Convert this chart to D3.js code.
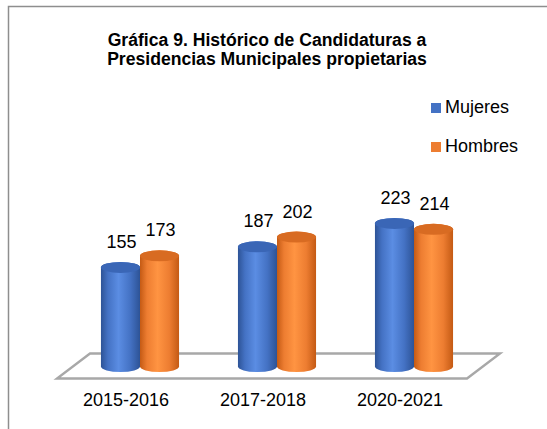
<!DOCTYPE html>
<html>
<head>
<meta charset="utf-8">
<script src="https://cdn.jsdelivr.net/npm/d3@7"></script>
<style>
  html, body { margin: 0; padding: 0; background: #fff; }
  svg { display: block; font-family: "Liberation Sans", Arial, sans-serif; }
</style>
</head>
<body>
<svg id="chart" width="547" height="429"></svg>
<script>
const categories = ["2015-2016", "2017-2018", "2020-2021"];
const seriesNames = ["Mujeres", "Hombres"];
const mujeres = [155, 187, 223];
const hombres = [173, 202, 214];
const titleLines = ["Gráfica 9. Histórico de Candidaturas a", "Presidencias Municipales propietarias"];

const seriesValues = [mujeres, hombres];
const colors = {
  Mujeres: { base: "#4472C4", light: "#5b8de3", dark: "#2d5396", top: "#3a66b6" },
  Hombres: { base: "#ED7D31", light: "#ff9442", dark: "#c45a14", top: "#d86b22" }
};

const svg = d3.select("#chart");
const defs = svg.append("defs");
seriesNames.forEach((s, i) => {
  const g = defs.append("linearGradient").attr("id", "grad" + i)
    .attr("x1", "0%").attr("x2", "100%").attr("y1", "0%").attr("y2", "0%");
  g.append("stop").attr("offset", "0%").attr("stop-color", colors[s].dark);
  g.append("stop").attr("offset", "18%").attr("stop-color", colors[s].base);
  g.append("stop").attr("offset", "45%").attr("stop-color", colors[s].light);
  g.append("stop").attr("offset", "75%").attr("stop-color", colors[s].base);
  g.append("stop").attr("offset", "100%").attr("stop-color", colors[s].dark);
});

// frame
svg.append("path")
  .attr("d", "M8.5,429 L8.5,6.5 L547,6.5")
  .attr("fill", "none").attr("stroke", "#8e8e8e").attr("stroke-width", 1.5);

// title
svg.append("text")
  .attr("x", 267).attr("y", 46)
  .attr("text-anchor", "middle")
  .attr("font-weight", "bold").attr("font-size", "17.6px").attr("fill", "#000")
  .selectAll("tspan").data(titleLines).join("tspan")
  .attr("x", 267).attr("dy", (d, i) => i === 0 ? 0 : 19).text(d => d);

// scales
const x0 = d3.scaleBand().domain(categories).range([71.5, 482.5])
  .paddingInner(0.43).paddingOuter(0.215);
const x1 = d3.scaleBand().domain(seriesNames).range([0, x0.bandwidth()]);
const y = d3.scaleLinear().domain([0, 250]).range([362.3, 200.5]);

// floor (3D base)
const floorBackY = 353.5, floorFrontY = 378.5, depthShift = 33;
const floorLeft = 90, floorRight = 500;
svg.append("path")
  .attr("d", `M${floorLeft},${floorBackY} L${floorRight},${floorBackY} L${floorRight - depthShift},${floorFrontY} L${floorLeft - depthShift},${floorFrontY} Z`)
  .attr("fill", "#fff").attr("stroke", "#a8a8a8").attr("stroke-width", 2.4)
  .attr("stroke-linejoin", "miter");

// cylinders
const ry = 5.5;
const bottomCY = 366.5;
const bars = [];
categories.forEach((c, ci) => {
  seriesNames.forEach((s, si) => {
    bars.push({ cat: c, series: s, si, value: seriesValues[si][ci] });
  });
});

const gBars = svg.append("g");
bars.forEach(d => {
  const xl = x0(d.cat) + x1(d.series);
  const w = x1.bandwidth();
  const rx = w / 2;
  const xr = xl + w;
  const topCY = y(d.value) + ry;
  const g = gBars.append("g");
  g.append("path")
    .attr("d", `M${xl},${topCY} L${xl},${bottomCY} A${rx},${ry} 0 0 0 ${xr},${bottomCY} L${xr},${topCY} A${rx},${ry} 0 0 0 ${xl},${topCY} Z`)
    .attr("fill", `url(#grad${d.si})`);
  g.append("ellipse")
    .attr("cx", xl + rx).attr("cy", topCY).attr("rx", rx).attr("ry", ry)
    .attr("fill", colors[d.series].top);
});

// value labels
svg.append("g").selectAll("text").data(bars).join("text")
  .attr("x", d => x0(d.cat) + x1(d.series) + x1.bandwidth() / 2 + 1)
  .attr("y", d => y(d.value) - 14)
  .attr("text-anchor", "middle")
  .attr("font-size", "18px").attr("fill", "#000")
  .text(d => d.value);

// category labels
svg.append("g").selectAll("text").data(categories).join("text")
  .attr("x", d => x0(d) + x0.bandwidth() / 2 - 14)
  .attr("y", 406)
  .attr("text-anchor", "middle")
  .attr("font-size", "18px").attr("fill", "#000")
  .text(d => d);

// legend
const legend = svg.append("g").selectAll("g").data(seriesNames).join("g")
  .attr("transform", (d, i) => `translate(431, ${103 + i * 39})`);
legend.append("rect").attr("width", 10).attr("height", 10)
  .attr("fill", d => colors[d].base);
legend.append("text").attr("x", 14).attr("y", 9.5)
  .attr("font-size", "18px").attr("fill", "#000")
  .text(d => d);
</script>
</body>
</html>
